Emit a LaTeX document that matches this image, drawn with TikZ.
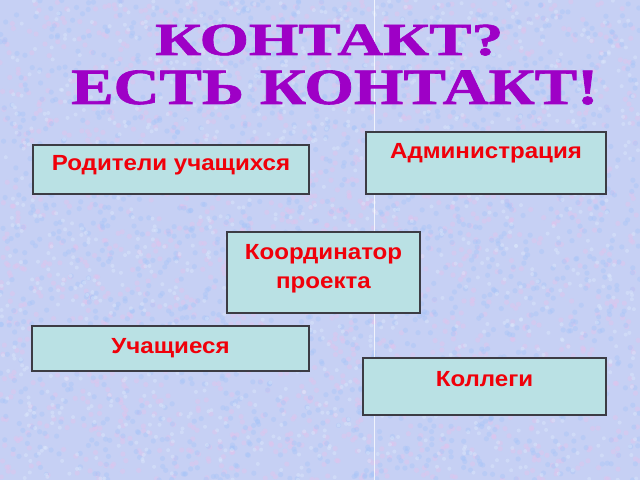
\documentclass[tikz,border=0pt]{standalone}
\usepackage{fontspec}
\setmainfont{Liberation Sans}
\newfontfamily\titlefont{Liberation Serif}[FakeBold=1.2]
\newfontfamily\cardfont{Liberation Sans}[FakeStretch=1.10]
\usepackage{graphicx}
\definecolor{bgcol}{RGB}{198,208,244}
\definecolor{speckA}{RGB}{228,194,236}
\definecolor{speckB}{RGB}{166,196,248}
\definecolor{speckC}{RGB}{222,234,252}
\definecolor{boxfill}{RGB}{186,225,228}
\definecolor{boxline}{RGB}{60,60,68}
\definecolor{txtred}{RGB}{240,0,10}
\definecolor{titlecol}{RGB}{158,0,198}
\tikzset{
  cardbox/.style={draw=boxline, fill=boxfill, line width=2bp, rectangle, inner sep=0pt},
  cardtext/.style={anchor=base, text=txtred, font=\cardfont\fontsize{22}{29}\selectfont\bfseries, inner sep=0pt, align=center},
  titletext/.style={anchor=base west, inner sep=0pt, text=titlecol},
  speck/.style={opacity=0.4}
}
\newcommand{\titleA}{\resizebox{348bp}{\height}{\titlefont\bfseries\fontsize{46}{50}\selectfont КОНТАКТ?}}
\newcommand{\titleB}{\resizebox{527bp}{\height}{\titlefont\bfseries\fontsize{51}{55}\selectfont ЕСТЬ КОНТАКТ!}}
\begin{document}
\begin{tikzpicture}[x=1bp,y=-1bp]
\fill[bgcol] (0,0) rectangle (640,480);
\useasboundingbox (0,0) rectangle (640,480);
\pgfmathsetseed{7}
\foreach \i in {1,...,1800} {
  \pgfmathsetmacro{\px}{640*rnd}
  \pgfmathsetmacro{\py}{480*rnd}
  \fill[speckA, speck] (\px,\py) circle (2.6bp);
}
\foreach \i in {1,...,1800} {
  \pgfmathsetmacro{\px}{640*rnd}
  \pgfmathsetmacro{\py}{480*rnd}
  \fill[speckB, speck] (\px,\py) circle (2.6bp);
}
\foreach \i in {1,...,1200} {
  \pgfmathsetmacro{\px}{640*rnd}
  \pgfmathsetmacro{\py}{480*rnd}
  \fill[speckC, speck] (\px,\py) circle (2bp);
}
\draw[white, opacity=0.75, line width=1bp] (374.5,0) -- (374.5,480);

% title
\node[titletext] (t1) at (155,55) {\titleA};
\node[titletext] (t2) at (71,104) {\titleB};

% boxes
\node[cardbox, minimum width=276bp, minimum height=49bp] (par) at (171,169.5) {};
\node[cardtext] (partxt) at (171,171) {Родители учащихся};

\node[cardbox, minimum width=240bp, minimum height=62bp] (adm) at (486,163) {};
\node[cardtext] (admtxt) at (486,159) {Администрация};

\node[cardbox, minimum width=193bp, minimum height=81bp] (crd) at (323.5,272.5) {};
\node[cardtext] (crdtxt) at (323.5,288) {Координатор\\проекта};

\node[cardbox, minimum width=277bp, minimum height=45bp] (stu) at (170.5,348.5) {};
\node[cardtext] (stutxt) at (170.5,353) {Учащиеся};

\node[cardbox, minimum width=243bp, minimum height=57bp] (col) at (484.5,386.5) {};
\node[cardtext] (coltxt) at (484.5,386) {Коллеги};
\end{tikzpicture}
\end{document}
